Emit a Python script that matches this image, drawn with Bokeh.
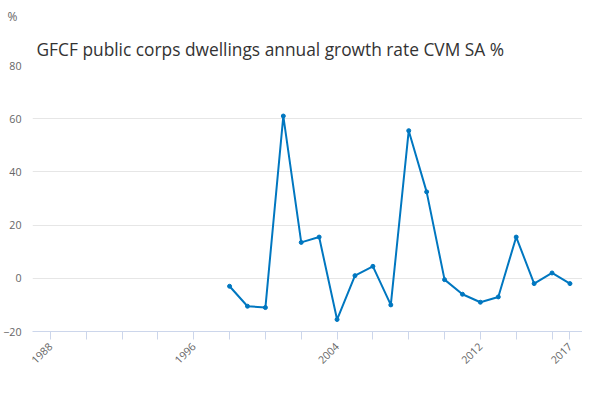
from bokeh.plotting import figure
from bokeh.models import FixedTicker, Legend, LegendItem, Title, Range1d
from bokeh.embed import file_html
from bokeh.resources import INLINE

years = list(range(1998, 2018))
values = [-3, -10.5, -11, 61, 13.5, 15.5, -15.5, 1, 4.5, -10, 55.5, 32.5, -0.5, -6, -9, -7, 15.5, -2, 2, -2]
tick_years = list(range(1988, 2017, 2)) + [2017]
labeled = [1988, 1996, 2004, 2012, 2017]
y_ticks = [-20, 0, 20, 40, 60, 80]

p = figure(frame_width=550, frame_height=266, output_backend="svg", toolbar_location=None,
           x_range=Range1d(1987, 2017.7), y_range=Range1d(-20, 80),
           min_border_left=5, min_border_right=0, min_border_top=0, min_border_bottom=0)
p.add_layout(Title(text="GFCF public corps dwellings annual growth rate CVM SA %",
                   text_font="Open Sans", text_font_size="13pt", text_font_style="normal",
                   text_color="#333333", offset=4), "above")
p.add_layout(Title(text="%", text_font="Open Sans", text_font_size="9pt",
                   text_font_style="normal", text_color="#666666", offset=-25), "above")
p.outline_line_color = None
p.xgrid.grid_line_color = None
p.ygrid.grid_line_color = "#e6e6e6"
p.yaxis.ticker = FixedTicker(ticks=y_ticks)
p.xaxis.ticker = FixedTicker(ticks=tick_years)
p.xaxis.major_label_overrides = {y: (str(y) if y in labeled else "") for y in tick_years}
p.xaxis.major_label_orientation = 0.785
p.yaxis.axis_line_color = None
p.yaxis.major_tick_line_color = None
p.yaxis.minor_tick_line_color = None
p.xaxis.minor_tick_line_color = None
p.xaxis.axis_line_color = "#ccd6eb"
p.xaxis.major_tick_line_color = "#ccd6eb"
p.xaxis.major_tick_in = 0
p.xaxis.major_tick_out = 8
for ax in (p.xaxis, p.yaxis):
    ax.major_label_text_font = "Open Sans"
    ax.major_label_text_font_size = "8pt"
    ax.major_label_text_color = "#666666"

r = p.line(years, values, line_color="#0077c0", line_width=2)
s = p.scatter(years, values, size=4, color="#0077c0")

leg = Legend(items=[LegendItem(label="GFCF public corps dwellings annual growth rate CVM SA %", renderers=[r, s])],
             location="center", orientation="horizontal", border_line_color=None,
             label_text_font="Open Sans", label_text_font_size="9pt", label_text_font_style="bold",
             label_text_color="#333333", glyph_width=20, margin=4, padding=2)
p.add_layout(leg, "below")
p.add_layout(Title(text="Source:", align="right", text_font="Open Sans", text_font_size="9pt",
                   text_font_style="normal", text_color="#666666"), "below")

open("out.html", "w").write(file_html(p, INLINE))
